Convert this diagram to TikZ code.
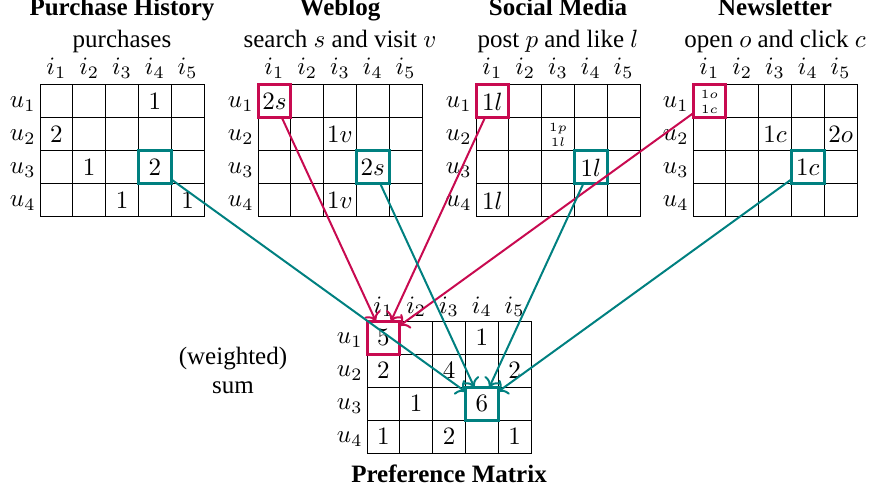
\documentclass[tikz,border=0pt]{standalone}
\usepackage{fontspec}
\setmainfont{Liberation Serif}
\usetikzlibrary{arrows.meta}
\definecolor{crim}{RGB}{200,10,80}
\definecolor{tealc}{RGB}{0,128,128}
% name, left, top, column label offset
\newcommand\drawmat[4]{%
  \foreach \ri in {1,...,4}{\foreach \ci in {1,...,5}{
    \node[cell] (#1-\ri-\ci) at ({#2+(\ci-0.5)*32.8},{#3+(\ri-0.5)*33}) {};}}
  \foreach \ci in {1,...,5}{\node[lab,anchor=base] (#1-i\ci) at ({#2+(\ci-0.5)*32.8},{#3-#4}) {$i_{\ci}$};}
  \foreach \ri in {1,...,4}{\node[lab,anchor=base east] (#1-u\ri) at ({#2-4},{#3+(\ri-0.5)*33+6}) {$u_{\ri}$};}
}
\begin{document}
\begin{tikzpicture}[x=0.4pt,y=-0.4pt,
  cell/.style={draw=black, line width=0.4pt, minimum width=13.12pt, minimum height=13.2pt, inner sep=0pt, outer sep=0pt},
  lab/.style={inner sep=0pt},
  ent/.style={inner sep=0pt},
  small/.style={inner sep=0pt, font=\tiny, align=center},
  hl/.style={draw=#1, line width=1.2pt, minimum width=13.12pt, minimum height=13.2pt, inner sep=0pt, outer sep=0pt},
  conn/.style={draw=#1, line width=0.8pt, ->},
]
\useasboundingbox (0,0) rectangle (878,492);

% titles
\node[lab,anchor=base] (t1) at (122,16) {\textbf{Purchase History}};
\node[lab,anchor=base] (s1) at (122,48) {purchases};
\node[lab,anchor=base] (t2) at (340,16) {\textbf{Weblog}};
\node[lab,anchor=base] (s2) at (340,48) {search $s$ and visit $v$};
\node[lab,anchor=base] (t3) at (558,16) {\textbf{Social Media}};
\node[lab,anchor=base] (s3) at (558,48) {post $p$ and like $l$};
\node[lab,anchor=base] (t4) at (775,16) {\textbf{Newsletter}};
\node[lab,anchor=base] (s4) at (775,48) {open $o$ and click $c$};
\node[lab,anchor=base] (t5) at (449,482) {\textbf{Preference Matrix}};
\node[lab,anchor=base] (w1) at (233,364) {(weighted)};
\node[lab,anchor=base] (w2) at (233,393) {sum};

% matrices
\drawmat{PH}{40}{85}{10}
\drawmat{WL}{258}{85}{10}
\drawmat{SM}{476}{85}{10}
\drawmat{NL}{693}{85}{10}
\drawmat{PM}{367}{321}{8}

% entries: purchase history
\node[ent] (PH-a) at (PH-1-4) {$1$};
\node[ent] (PH-b) at (PH-2-1) {$2$};
\node[ent] (PH-c) at (PH-3-2) {$1$};
\node[ent] (PH-d) at (PH-3-4) {$2$};
\node[ent] (PH-e) at (PH-4-3) {$1$};
\node[ent] (PH-f) at (PH-4-5) {$1$};
% weblog
\node[ent] (WL-a) at (WL-1-1) {$2s$};
\node[ent] (WL-b) at (WL-2-3) {$1v$};
\node[ent] (WL-c) at (WL-3-4) {$2s$};
\node[ent] (WL-d) at (WL-4-3) {$1v$};
% social media
\node[ent] (SM-a) at (SM-1-1) {$1l$};
\node[small] (SM-b) at (SM-2-3) {$1p$\\$1l$};
\node[ent] (SM-c) at (SM-3-4) {$1l$};
\node[ent] (SM-d) at (SM-4-1) {$1l$};
% newsletter
\node[small] (NL-a) at (NL-1-1) {$1o$\\$1c$};
\node[ent] (NL-b) at (NL-2-3) {$1c$};
\node[ent] (NL-c) at (NL-2-5) {$2o$};
\node[ent] (NL-d) at (NL-3-4) {$1c$};
% preference
\node[ent] (PM-a) at (PM-1-1) {$5$};
\node[ent] (PM-b) at (PM-1-4) {$1$};
\node[ent] (PM-c) at (PM-2-1) {$2$};
\node[ent] (PM-d) at (PM-2-3) {$4$};
\node[ent] (PM-e) at (PM-2-5) {$2$};
\node[ent] (PM-f) at (PM-3-2) {$1$};
\node[ent] (PM-g) at (PM-3-4) {$6$};
\node[ent] (PM-h) at (PM-4-1) {$1$};
\node[ent] (PM-i) at (PM-4-3) {$2$};
\node[ent] (PM-j) at (PM-4-5) {$1$};

% highlights
\node[hl=crim] (WLr) at (WL-1-1) {};
\node[hl=crim] (SMr) at (SM-1-1) {};
\node[hl=crim] (NLr) at (NL-1-1) {};
\node[hl=crim] (PMr) at (PM-1-1) {};
\node[hl=tealc] (PHt) at (PH-3-4) {};
\node[hl=tealc] (WLt) at (WL-3-4) {};
\node[hl=tealc] (SMt) at (SM-3-4) {};
\node[hl=tealc] (NLt) at (NL-3-4) {};
\node[hl=tealc] (PMt) at (PM-3-4) {};

% connectors
\draw[conn=crim] (WLr) -- (PMr);
\draw[conn=crim] (SMr) -- (PMr);
\draw[conn=crim] (NLr) -- (PMr);
\draw[conn=tealc] (PHt) -- (PMt);
\draw[conn=tealc] (WLt) -- (PMt);
\draw[conn=tealc] (SMt) -- (PMt);
\draw[conn=tealc] (NLt) -- (PMt);
\end{tikzpicture}
\end{document}
